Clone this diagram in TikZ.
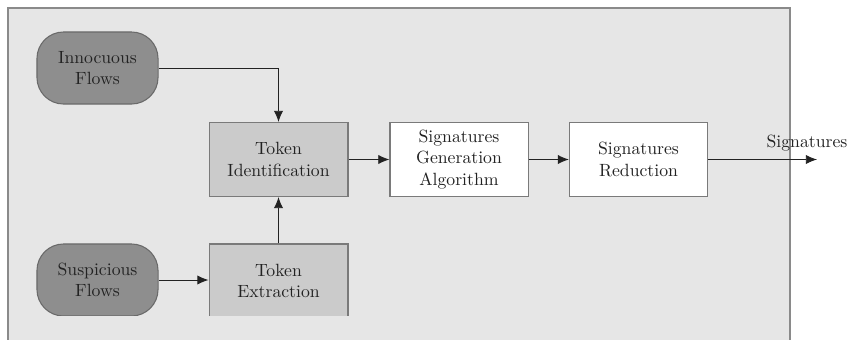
\documentclass[tikz,border=0pt]{standalone}
\usetikzlibrary{arrows.meta}
\definecolor{panel}{HTML}{E6E6E6}
\definecolor{panelline}{HTML}{8A8A8A}
\definecolor{flowfill}{HTML}{8E8E8E}
\definecolor{flowline}{HTML}{6A6A6A}
\definecolor{tokfill}{HTML}{CBCBCB}
\definecolor{boxline}{HTML}{7A7A7A}
\definecolor{ink}{HTML}{222222}
\tikzset{
  flow/.style={draw=flowline, fill=flowfill, rounded corners=15pt, line width=0.6pt,
    minimum width=68.4pt, minimum height=40.7pt, align=center, inner sep=0pt, text=ink},
  tokbox/.style={draw=boxline, fill=tokfill, line width=0.6pt,
    minimum width=78.5pt, minimum height=41.8pt, align=center, inner sep=0pt, text=ink},
  algbox/.style={draw=boxline, fill=white, line width=0.6pt,
    minimum width=78pt, minimum height=41.3pt, align=center, inner sep=0pt, text=ink},
  conn/.style={draw=ink, line width=0.5pt, -{Latex[length=6.3pt,width=5.2pt]}}
}
\begin{document}
\begin{tikzpicture}[x=0.565pt,y=-0.565pt]
  \useasboundingbox (0,0) rectangle (851,339);
  % background panel
  \draw[panelline, fill=panel, line width=0.7pt] (8,8) rectangle (790,345);
  % lower row is cut off at the panel's visible edge
  \begin{scope}
    \clip (0,0) rectangle (851,315);
    \node[flow] (inn) at (97.5,68) {Innocuous\\Flows};
    \node[flow] (sus) at (97.5,280) {Suspicious\\Flows};
    \node[tokbox] (tid) at (278.5,159.5) {Token\\Identification};
    \node[tokbox] (tex) at (278.5,281) {Token\\Extraction};
  \end{scope}
  \node[algbox] (sga) at (459,159.5) {Signatures\\Generation\\Algorithm};
  \node[algbox] (sred) at (638.5,159.5) {Signatures\\Reduction};
  \coordinate (out) at (817,159.5);
  \node[text=ink] (outlbl) at (807,143) {Signatures};
  % connectors
  \draw[conn] (inn.east) -| (tid.north);
  \draw[conn] (sus.east |- 0,280) -- (tex.west |- 0,280);
  \draw[conn] (tex.north) -- (tid.south);
  \draw[conn] (tid.east) -- (sga.west);
  \draw[conn] (sga.east) -- (sred.west);
  \draw[conn] (sred.east) -- (out);
\end{tikzpicture}
\end{document}
